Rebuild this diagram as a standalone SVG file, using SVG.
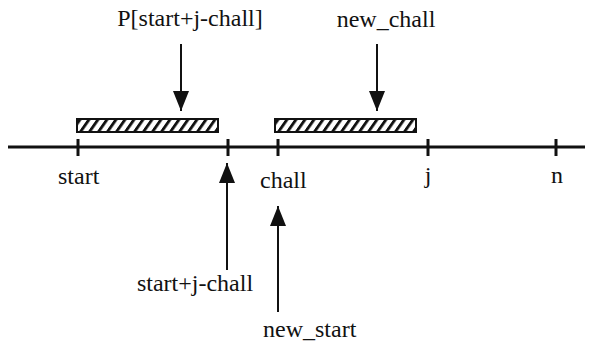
<svg xmlns="http://www.w3.org/2000/svg" width="590" height="345" viewBox="0 0 590 345">
<style>
text{font-family:"Liberation Serif","Times New Roman",serif;font-size:24px;fill:#111}
.ln{stroke:#111;fill:none}
.bar{fill:url(#hatch);stroke:#111;stroke-width:2}
</style>
<defs>
<pattern id="hatch" width="9" height="14" patternUnits="userSpaceOnUse" patternTransform="skewX(-35)">
<rect width="9" height="14" fill="#fff"/>
<rect x="0" y="0" width="3.5" height="14" fill="#111"/>
</pattern>
<marker id="ah" viewBox="0 0 20 16" refX="20" refY="8" markerWidth="20" markerHeight="16" markerUnits="userSpaceOnUse" orient="auto">
<path d="M0,0 L20,8 L0,16 Z" fill="#111"/>
</marker>
</defs>
<g id="axis">
<line class="ln" x1="8" y1="147" x2="585" y2="147" stroke-width="3"/>
<g class="ln" stroke-width="3">
<line x1="78" y1="139" x2="78" y2="156"/>
<line x1="228" y1="139" x2="228" y2="156"/>
<line x1="278" y1="139" x2="278" y2="156"/>
<line x1="428" y1="139" x2="428" y2="156"/>
<line x1="556" y1="139" x2="556" y2="156"/>
</g>
</g>
<g id="bar1"><rect class="bar" x="77" y="119" width="141" height="13"/></g>
<g id="bar2"><rect class="bar" x="275" y="119" width="141" height="13"/></g>
<g id="label-start"><text x="58" y="184">start</text></g>
<g id="label-chall"><text x="260" y="188">chall</text></g>
<g id="label-j"><text x="428" y="183" text-anchor="middle">j</text></g>
<g id="label-n"><text x="557" y="183" text-anchor="middle">n</text></g>
<g id="label-p"><text x="190" y="26" text-anchor="middle">P[start+j-chall]</text></g>
<g id="label-newchall"><text x="386" y="27" text-anchor="middle">new_chall</text></g>
<g id="label-sjc"><text x="195" y="291" text-anchor="middle">start+j-chall</text></g>
<g id="label-newstart"><text x="263" y="337">new_start</text></g>
<g id="connectors" class="ln" stroke-width="2">
<line x1="181" y1="44" x2="181" y2="111" marker-end="url(#ah)"/>
<line x1="377" y1="44" x2="377" y2="111" marker-end="url(#ah)"/>
<line x1="227" y1="270" x2="227" y2="163" marker-end="url(#ah)"/>
<line x1="278" y1="312" x2="278" y2="206" marker-end="url(#ah)"/>
</g>
</svg>
